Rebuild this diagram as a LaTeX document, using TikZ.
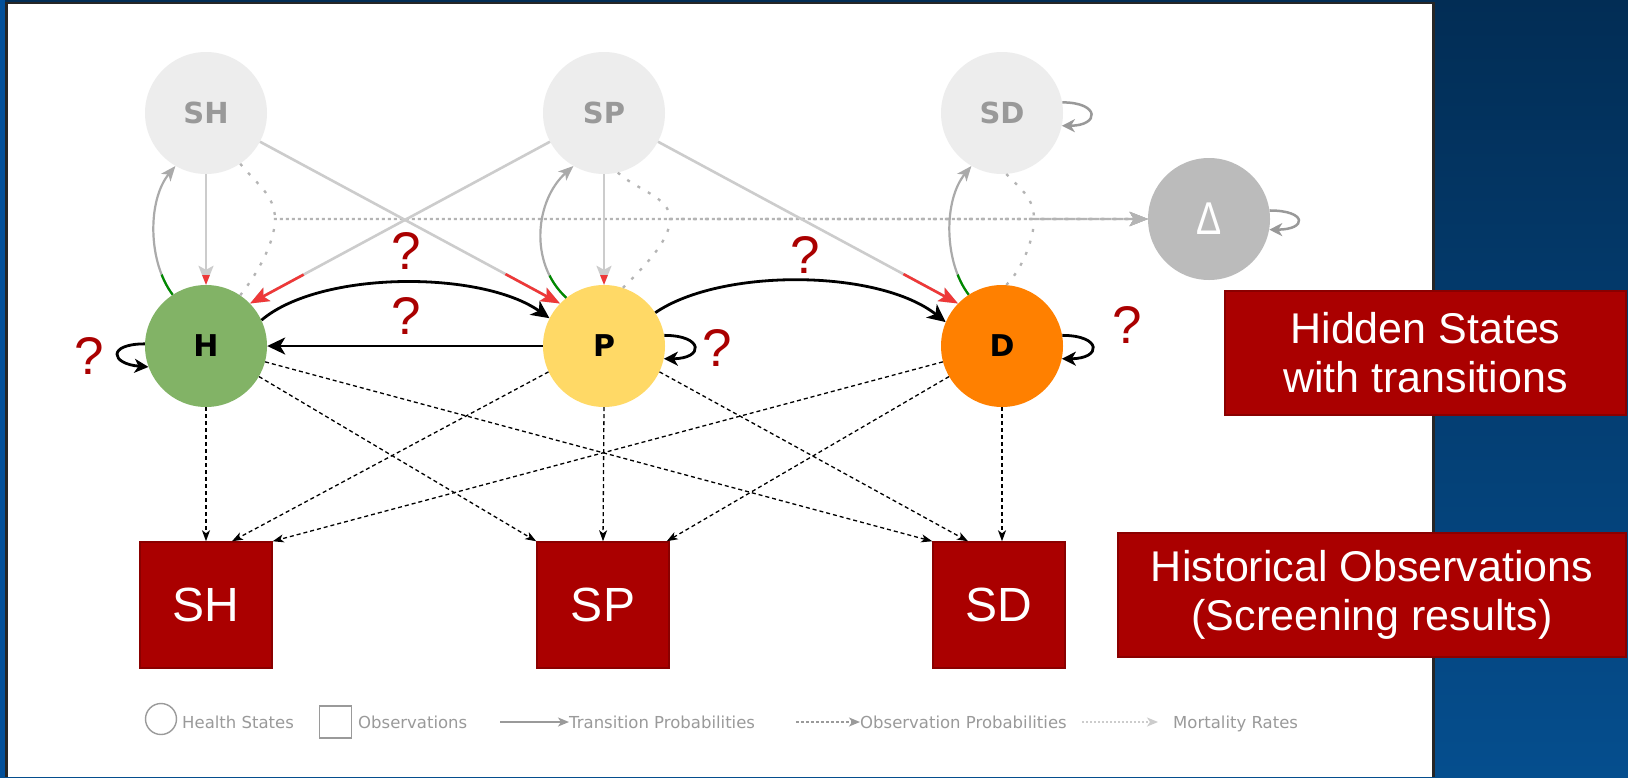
\documentclass[tikz,border=0pt]{standalone}
\usepackage{fontspec}
\usepackage{graphicx}
\usetikzlibrary{arrows.meta}

\newfontfamily\arialfont{Liberation Sans}
\newfontfamily\dejafont{DejaVu Sans}

\definecolor{bgtop}{HTML}{022D55}
\definecolor{bgbot}{HTML}{054E8E}
\definecolor{bgleft}{HTML}{03509A}
\definecolor{ghost}{HTML}{EDEDED}
\definecolor{ghosttext}{HTML}{999999}
\definecolor{deadfill}{HTML}{BBBBBB}
\definecolor{healthy}{HTML}{82B366}
\definecolor{precl}{HTML}{FFD966}
\definecolor{disease}{HTML}{FF8000}
\definecolor{boxred}{HTML}{AA0000}
\definecolor{boxedge}{HTML}{8A0000}
\definecolor{linkgray}{HTML}{CCCCCC}
\definecolor{curvegray}{HTML}{AAAAAA}
\definecolor{mortgray}{HTML}{B4B4B4}
\definecolor{hotred}{HTML}{EE3838}
\definecolor{backgreen}{HTML}{008A00}
\definecolor{legendgray}{HTML}{9A9A9A}

\begin{document}
\begin{tikzpicture}[x=1pt,y=-1pt,
  state/.style={circle, minimum size=122pt, inner sep=0pt},
  ghoststate/.style={state, fill=ghost, text=ghosttext,
    font=\dejafont\bfseries\fontsize{29}{29}\selectfont},
  livestate/.style={state, text=black,
    font=\dejafont\bfseries\fontsize{30}{30}\selectfont},
  obsbox/.style={rectangle, fill=boxred, draw=boxedge, line width=1.5pt,
    minimum width=132pt, minimum height=126pt, inner sep=0pt, text=white,
    font=\arialfont\fontsize{48}{48}\selectfont},
  infobox/.style={rectangle, fill=boxred, draw=boxedge, line width=1.5pt,
    minimum height=124pt, inner sep=0pt, text=white, align=center,
    font=\arialfont\fontsize{43}{49}\selectfont},
  qmark/.style={text=boxred, inner sep=0pt,
    font=\arialfont\fontsize{53}{53}\selectfont},
  trans/.style={line width=2.8pt, -{Stealth[length=18pt,width=17pt,inset=5pt]}},
  loopy/.style={line width=2.8pt, -{Stealth[length=14pt,width=14pt,inset=4pt]}},
  ghostloop/.style={draw=ghosttext, line width=2.5pt,
    -{Stealth[length=13pt,width=13pt,inset=4pt]}},
  ghostlink/.style={draw=linkgray, line width=2.6pt,
    -{Stealth[length=19pt,width=15pt,inset=4pt]}},
  hotlink/.style={ghostlink, draw=hotred},
  backcurve/.style={draw=curvegray, line width=2.2pt,
    -{Stealth[length=15pt,width=12pt,inset=4pt]}},
  greencurve/.style={backcurve, draw=backgreen},
  obs/.style={line width=1.3pt, dash pattern=on 4pt off 3pt,
    -{Stealth[length=11pt,width=8pt,inset=3pt]}},
  mortend/.style={draw=mortgray, line width=2.3pt, dash pattern=on 3pt off 9pt,
    -{Stealth[length=18pt,width=14pt,inset=4pt]}},
  legendtext/.style={anchor=base west, inner sep=0pt, text=legendgray,
    font=\dejafont\fontsize{16.5}{16.5}\selectfont},
  legendline/.style={draw=legendgray, line width=1.8pt,
    -{Stealth[length=11pt,width=9pt,inset=3pt]}}
]
\useasboundingbox (0,0) rectangle (1628,777);

% slide background and white panel
\shade[top color=bgtop, bottom color=bgbot] (0,0) rectangle (1628,777);
\fill[bgleft] (0,0) rectangle (5,777);
\fill[black!85] (5,1.5) rectangle (1434.5,777);
\fill[white] (7.5,4) rectangle (1432,777);

% screening states (top row) and death
\node[ghoststate] (SH) at (206,113) {SH};
\node[ghoststate] (SP) at (604,113) {SP};
\node[ghoststate] (SD) at (1002,113) {SD};
\node[state, fill=deadfill, text=white,
  font=\arialfont\fontsize{46}{46}\selectfont] (Delta) at (1209,219) {\scalebox{0.82}[1]{Δ}};

% hidden health states
\node[livestate, fill=healthy] (H) at (206,346) {H};
\node[livestate, fill=precl] (P) at (604,346) {P};
\node[livestate, fill=disease] (D) at (1002,346) {D};

% observations
\node[obsbox] (OSH) at (206,605) {SH};
\node[obsbox] (OSP) at (603,605) {SP};
\node[obsbox] (OSD) at (999,605) {SD};

% side captions
\node[infobox, minimum width=401pt] (hid) at (1425.5,353) {Hidden States\\with transitions};
\node[infobox, minimum width=508pt] (hist) at (1372,595) {Historical Observations\\(Screening results)};

% mortality (dotted) towards death
\coordinate (m1) at (275,219);
\coordinate (m2) at (670,219);
\coordinate (m3) at (1034,219);
\draw[mortend] (SH.-56) .. controls +(16,20) and +(0,-24) .. (m1) -- (Delta.west);
\draw[mortend] (H.56) .. controls +(16,-20) and +(0,24) .. (m1) -- (Delta.west);
\draw[mortend] (SP.-77) .. controls +(20,18) and +(0,-22) .. (m2) -- (Delta.west);
\draw[mortend] (P.72) .. controls +(20,-20) and +(0,22) .. (m2) -- (Delta.west);
\draw[mortend] (SD.-86) .. controls +(16,16) and +(0,-20) .. (m3) -- (Delta.west);
\draw[mortend] (D.86) .. controls +(16,-16) and +(0,20) .. (m3) -- (Delta.west);

% screening feeds back into hidden states
\draw[ghostlink] (SH.south) -- (H.north);
\begin{scope}\clip (H) circle[radius=71]; \draw[hotlink] (SH.south) -- (H.north); \end{scope}
\draw[ghostlink] (SP.south) -- (P.north);
\begin{scope}\clip (P) circle[radius=71]; \draw[hotlink] (SP.south) -- (P.north); \end{scope}
\draw[ghostlink] (SH.-28) -- (P.136);
\begin{scope}\clip (P) circle[radius=122]; \draw[hotlink] (SH.-28) -- (P.136); \end{scope}
\draw[ghostlink] (SP.208) -- (H.44);
\begin{scope}\clip (H) circle[radius=121]; \draw[hotlink] (SP.208) -- (H.44); \end{scope}
\draw[ghostlink] (SP.-28) -- (D.136);
\begin{scope}\clip (D) circle[radius=122]; \draw[hotlink] (SP.-28) -- (D.136); \end{scope}

% hidden states lead to screening
\draw[backcurve] (H.123) .. controls +(-25,-33) and +(-28,34) .. (SH.240);
\begin{scope}\clip (H) circle[radius=84];
  \draw[greencurve] (H.123) .. controls +(-25,-33) and +(-28,34) .. (SH.240); \end{scope}
\draw[backcurve] (P.128) .. controls +(-38,-35) and +(-38,34) .. (SP.240);
\begin{scope}\clip (P) circle[radius=89];
  \draw[greencurve] (P.128) .. controls +(-38,-35) and +(-38,34) .. (SP.240); \end{scope}
\draw[backcurve] (D.123) .. controls +(-25,-33) and +(-28,34) .. (SD.240);
\begin{scope}\clip (D) circle[radius=84];
  \draw[greencurve] (D.123) .. controls +(-25,-33) and +(-28,34) .. (SD.240); \end{scope}

% transitions between hidden states
\draw[trans] (H.25) .. controls +(59,-50) and +(-68,-48) .. (P.153);
\draw[trans] (P.180) -- (H.0);
\draw[trans] (P.33) .. controls +(66,-45) and +(-67,-53) .. (D.157);
\draw[loopy] (H.178) .. controls +(-38,0) and +(-38,-3) .. (H.200);
\draw[loopy] (P.10) .. controls +(40,0) and +(40,0) .. (P.-12);
\draw[loopy] (D.10) .. controls +(40,0) and +(40,0) .. (D.-12);
\draw[ghostloop] (SD.10) .. controls +(38,0) and +(38,0) .. (SD.-12);
\draw[ghostloop] (Delta.8) .. controls +(38,0) and +(38,0) .. (Delta.-10);

% observation probabilities
\draw[obs] (H.south) -- (OSH.north);
\draw[obs] (H.-30) -- (OSP.north west);
\draw[obs] (H.-15) -- (OSD.north west);
\draw[obs] (P.205) -- ([xshift=26pt]OSH.north);
\draw[obs] (P.south) -- (OSP.north);
\draw[obs] (P.-25) -- ([xshift=-31pt]OSD.north);
\draw[obs] (D.195) -- (OSH.north east);
\draw[obs] (D.210) -- ([xshift=-3pt]OSP.north east);
\draw[obs] (D.south) -- (D.south |- OSD.north);

% unknown parameters
\node[qmark] (q1) at (406,251) {?};
\node[qmark] (q2) at (406,316) {?};
\node[qmark] (q3) at (89,356) {?};
\node[qmark] (q4) at (717,348) {?};
\node[qmark] (q5) at (805,255) {?};
\node[qmark] (q6) at (1127,325) {?};

% legend
\node[circle, draw=legendgray, line width=1.4pt, minimum size=31pt, inner sep=0pt] (lgstate) at (161,719) {};
\node[legendtext] (lgstatetxt) at (182,728) {Health States};
\node[rectangle, draw=legendgray, line width=1.4pt, minimum width=32pt, minimum height=32pt, inner sep=0pt] (lgobs) at (335.5,722) {};
\node[legendtext] (lgobstxt) at (358,728) {Observations};
\coordinate (lgta) at (500,722);
\node[legendtext] (lgtrtxt) at (569,728) {Transition Probabilities};
\draw[legendline] (lgta) -- (lgtrtxt.west |- lgta);
\coordinate (lgoa) at (796,722);
\node[legendtext] (lgobtxt) at (860,728) {Observation Probabilities};
\draw[legendline, dash pattern=on 3pt off 2pt] (lgoa) -- (lgobtxt.west |- lgoa);
\coordinate (lgma) at (1082,722);
\coordinate (lgmb) at (1158,722);
\node[legendtext] (lgmtxt) at (1173,728) {Mortality Rates};
\draw[legendline, draw=linkgray, dash pattern=on 1.5pt off 2.5pt] (lgma) -- (lgmb);
\end{tikzpicture}
\end{document}
